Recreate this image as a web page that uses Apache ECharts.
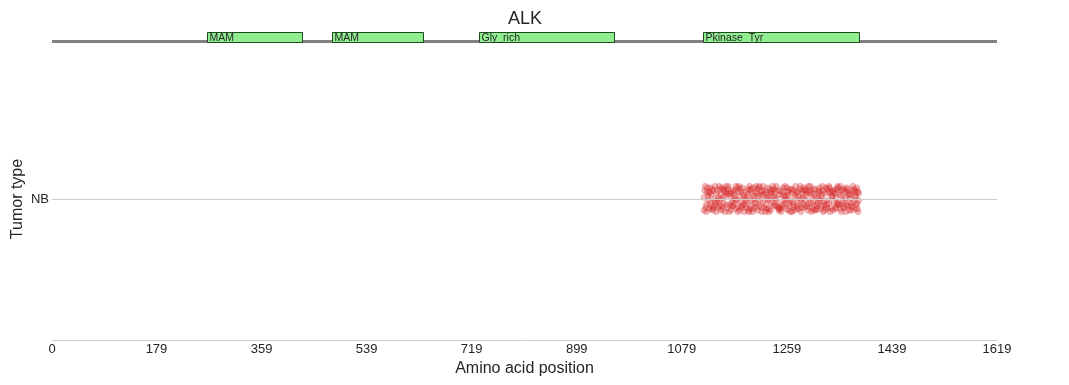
<!DOCTYPE html>
<html>
<head>
<meta charset="utf-8">
<script src="https://cdn.jsdelivr.net/npm/echarts@6/dist/echarts.min.js"></script>
<style>
html,body{margin:0;padding:0;background:#fff;}
#chart{width:1069px;height:385px;}
</style>
</head>
<body>
<div id="chart"></div>
<script>
const geneName = 'ALK';
const proteinLength = 1619;
const tumorTypes = ['NB'];
const tickLabels = [0, 179, 359, 539, 719, 899, 1079, 1259, 1439, 1619];
const domainNames = ['MAM', 'MAM', 'Gly_rich', 'Pkinase_Tyr'];
const domainStarts = [265, 480, 732, 1116];
const domainEnds = [427, 636, 963, 1383];
// NB mutations: [amino acid position (jittered), vertical jitter]
const nbPoints = [
[1118,0.06],[1121,-0.04],[1117,-0.08],[1124,0.02],[1119,0.09],[1126,-0.07],[1122,0.05],[1125,-0.01],[1120,-0.06],[1123,0.08],[1117,0.01],[1126,0.04],[1121,-0.09],
[1128,-0.03],[1131,0.07],[1134,-0.06],[1129,0.03],[1136,0.09],[1132,-0.08],[1127,0.05],[1135,0.0],[1130,-0.05],[1133,0.06],[1136,-0.02],[1128,0.08],[1131,-0.07],
[1138,0.04],[1141,-0.06],[1145,0.07],[1139,-0.02],[1143,0.09],[1146,-0.08],[1137,-0.04],[1142,0.01],[1144,-0.05],[1140,0.06],[1146,0.03],[1138,-0.09],[1143,-0.01],
[1148,0.08],[1151,-0.03],[1154,0.05],[1149,-0.07],[1156,-0.04],[1152,0.02],[1147,0.0],[1155,0.09],[1150,0.06],[1153,-0.09],[1156,0.04],[1148,-0.05],[1151,0.07],
[1158,-0.06],[1161,0.04],[1165,-0.02],[1159,0.09],[1163,-0.08],[1166,0.06],[1157,0.03],[1162,-0.04],[1164,0.01],[1160,-0.09],[1166,-0.05],[1158,0.07],[1163,0.05],
[1168,0.02],[1171,-0.07],[1174,0.08],[1169,-0.03],[1176,0.05],[1172,0.09],[1167,-0.05],[1175,-0.09],[1170,0.06],[1173,-0.01],[1176,-0.06],[1168,0.04],[1171,0.0],
[1178,-0.08],[1181,0.05],[1184,-0.04],[1179,0.07],[1186,0.01],[1182,-0.06],[1177,0.09],[1185,0.03],[1180,-0.02],[1183,0.08],[1186,-0.09],[1178,0.02],[1181,-0.05],
[1188,0.05],[1191,-0.02],[1195,0.09],[1189,-0.06],[1193,0.03],[1196,-0.07],[1187,-0.01],[1192,0.07],[1194,-0.09],[1190,0.01],[1196,0.06],[1188,-0.04],[1193,-0.08],
[1198,-0.05],[1201,0.08],[1204,-0.03],[1199,0.04],[1206,-0.06],[1202,0.0],[1197,0.07],[1205,0.05],[1200,-0.09],[1203,0.02],[1206,0.09],[1198,-0.01],[1201,-0.07],
[1208,0.07],[1211,-0.05],[1214,0.03],[1209,-0.08],[1216,0.06],[1212,0.09],[1207,-0.03],[1215,-0.06],[1210,0.02],[1213,-0.01],[1216,-0.09],[1208,0.04],[1211,0.08],
[1218,-0.02],[1221,0.06],[1225,-0.07],[1219,0.03],[1223,-0.04],[1226,0.08],[1217,0.05],[1222,-0.09],[1224,0.01],[1220,-0.06],[1226,0.0],[1218,0.09],[1223,0.04],
[1228,0.03],[1231,-0.08],[1234,0.06],[1229,-0.01],[1236,-0.05],[1232,0.04],[1227,-0.07],[1235,0.09],[1230,0.07],[1233,-0.03],[1236,0.02],[1228,-0.09],[1231,0.05],
[1238,-0.04],[1241,0.09],[1244,-0.06],[1239,0.05],[1246,0.03],[1242,-0.02],[1237,0.07],[1245,-0.08],[1240,0.0],[1243,0.06],[1246,-0.07],[1238,0.01],[1241,-0.05],
[1248,0.06],[1251,-0.04],[1255,0.02],[1249,-0.09],[1253,0.08],[1256,-0.03],[1247,-0.06],[1252,0.05],[1254,-0.01],[1250,0.03],[1256,0.09],[1248,-0.07],[1253,-0.05],
[1258,-0.07],[1261,0.03],[1264,-0.05],[1259,0.08],[1266,-0.01],[1262,0.06],[1257,0.02],[1265,-0.09],[1260,0.05],[1263,-0.03],[1266,0.07],[1258,0.0],[1261,-0.08],
[1268,0.04],[1271,-0.06],[1274,0.09],[1269,-0.02],[1276,0.05],[1272,-0.08],[1267,0.07],[1275,0.01],[1270,-0.04],[1273,0.03],[1276,-0.07],[1268,-0.09],[1271,0.06],
[1278,-0.03],[1281,0.07],[1285,-0.06],[1279,0.02],[1283,-0.09],[1286,0.04],[1277,-0.05],[1282,0.09],[1284,0.0],[1280,-0.07],[1286,0.06],[1278,0.05],[1283,-0.02],
[1288,0.08],[1291,-0.01],[1294,0.05],[1289,-0.06],[1296,-0.03],[1292,0.03],[1287,0.01],[1295,-0.08],[1290,0.06],[1293,-0.05],[1296,0.09],[1288,-0.04],[1291,0.07],
[1298,-0.06],[1301,0.05],[1304,-0.02],[1299,0.09],[1306,-0.08],[1302,0.01],[1297,0.04],[1305,0.07],[1300,-0.03],[1303,-0.07],[1306,0.03],[1298,0.06],[1301,-0.09],
[1308,0.02],[1311,-0.05],[1315,0.08],[1309,-0.08],[1313,0.04],[1316,-0.01],[1307,0.07],[1312,-0.03],[1314,0.06],[1310,-0.07],[1316,0.05],[1308,-0.04],[1313,0.0],
[1318,-0.05],[1321,0.06],[1324,-0.08],[1319,0.03],[1326,0.08],[1322,-0.02],[1317,-0.07],[1325,0.04],[1320,0.09],[1323,-0.04],[1326,-0.06],[1318,0.01],[1321,-0.09],
[1328,0.07],[1331,-0.03],[1334,0.04],[1329,-0.07],[1336,0.02],[1332,0.08],[1327,-0.04],[1335,-0.06],[1330,0.05],[1333,-0.09],[1336,0.06],[1328,-0.01],[1331,0.09],
[1338,-0.08],[1341,0.04],[1345,-0.03],[1339,0.06],[1343,-0.06],[1346,0.09],[1337,0.02],[1342,-0.07],[1344,0.07],[1340,-0.02],[1346,-0.04],[1338,0.05],[1343,0.01],
[1348,0.05],[1351,-0.07],[1354,0.02],[1349,-0.04],[1356,0.07],[1352,-0.09],[1347,0.08],[1355,-0.02],[1350,0.03],[1353,0.06],[1356,-0.06],[1348,-0.03],[1351,0.09],
[1358,-0.02],[1361,0.08],[1364,-0.05],[1359,0.01],[1366,-0.08],[1362,0.05],[1357,-0.06],[1365,0.03],[1360,-0.09],[1363,0.07],[1366,0.04],[1358,0.06],[1361,-0.04],
[1368,0.03],[1371,-0.06],[1374,0.07],[1369,-0.03],[1376,-0.07],[1372,0.09],[1367,0.0],[1375,0.05],[1370,-0.08],[1373,-0.02],[1376,0.02],[1368,-0.05],[1371,0.06],
[1378,-0.04],[1381,0.05],[1379,0.08],[1380,-0.07],[1377,0.02],[1382,-0.01],[1378,0.06],[1381,-0.09],[1379,-0.03],[1382,0.04]
];

const FONT = '"Liberation Sans", Arial, sans-serif';
const chart = echarts.init(document.getElementById('chart'), null, {renderer: 'canvas'});

const domainData = domainNames.map((n, i) => [domainStarts[i], domainEnds[i], n]);

chart.setOption({
  animation: false,
  backgroundColor: '#ffffff',
  title: {
    text: geneName,
    left: 503,
    top: 5,
    textStyle: {fontFamily: FONT, fontSize: 18, fontWeight: 'normal', color: '#262626'}
  },
  grid: [
    {left: 52, right: 72, top: 58, bottom: 45, containLabel: false, outerBoundsMode: 'none'},
    {left: 52, right: 72, top: 32, height: 10, containLabel: false, outerBoundsMode: 'none'}
  ],
  xAxis: [
    {
      type: 'value', gridIndex: 0, min: 0, max: proteinLength,
      name: 'Amino acid position', nameLocation: 'middle', nameGap: 21, nameMoveOverlap: false,
      nameTextStyle: {fontFamily: FONT, fontSize: 16, color: '#262626'},
      axisLine: {show: true, onZero: false, lineStyle: {color: '#cccccc', width: 1}},
      axisTick: {show: false},
      splitLine: {show: false},
      axisLabel: {customValues: tickLabels, margin: 3, fontFamily: FONT, fontSize: 13, color: '#262626',
        formatter: v => String(v)}
    },
    {
      type: 'value', gridIndex: 1, min: 0, max: proteinLength, show: false
    }
  ],
  yAxis: [
    {
      type: 'value', gridIndex: 0, min: -1, max: 1,
      name: 'Tumor type', nameLocation: 'middle', nameGap: 26, nameMoveOverlap: false,
      nameTextStyle: {fontFamily: FONT, fontSize: 16, color: '#262626'},
      axisLine: {show: false, onZero: false}, axisTick: {show: false}, splitLine: {show: false},
      axisLabel: {customValues: [0], margin: 3, fontFamily: FONT, fontSize: 13, color: '#262626',
        formatter: v => (Math.abs(v) < 1e-9 ? tumorTypes[0] : '')}
    },
    {type: 'value', gridIndex: 1, min: 0, max: 1, show: false}
  ],
  series: [
    {
      type: 'scatter', xAxisIndex: 0, yAxisIndex: 0,
      data: nbPoints,
      symbol: 'circle', symbolSize: 6,
      itemStyle: {color: '#d62728', opacity: 0.32, borderColor: '#d62728', borderWidth: 0.6},
      silent: true,
      markLine: {
        silent: true, symbol: 'none', animation: false,
        label: {show: false},
        lineStyle: {color: '#cccccc', width: 1, type: 'solid'},
        data: [{yAxis: 0}]
      },
      z: 3
    },
    {
      type: 'custom', xAxisIndex: 1, yAxisIndex: 1,
      data: [[0, proteinLength]],
      silent: true, z: 2,
      renderItem: (params, api) => {
        const a = api.coord([api.value(0), 0.05]);
        const b = api.coord([api.value(1), 0.05]);
        return {type: 'line', shape: {x1: a[0], y1: a[1], x2: b[0], y2: b[1]},
          style: {stroke: '#808080', lineWidth: 3}};
      }
    },
    {
      type: 'custom', xAxisIndex: 1, yAxisIndex: 1,
      data: domainData,
      silent: true, z: 4,
      renderItem: (params, api) => {
        const tl = api.coord([api.value(0), 1]);
        const br = api.coord([api.value(1), 0]);
        const x = Math.round(tl[0]) + 0.5, y = Math.round(tl[1]) + 0.5;
        const w = Math.round(br[0] - tl[0]), h = Math.round(br[1] - tl[1]);
        return {
          type: 'group',
          children: [
            {type: 'rect', shape: {x: x, y: y, width: w, height: h},
              style: {fill: '#90ee90', stroke: '#1f4a1f', lineWidth: 1}},
            {type: 'text', x: x + 2, y: y + h / 2 + 0.5,
              style: {text: domainData[params.dataIndex][2], fontFamily: FONT, fontSize: 10.5,
                fill: '#262626', verticalAlign: 'middle', align: 'left'}}
          ]
        };
      }
    }
  ]
});
</script>
</body>
</html>
